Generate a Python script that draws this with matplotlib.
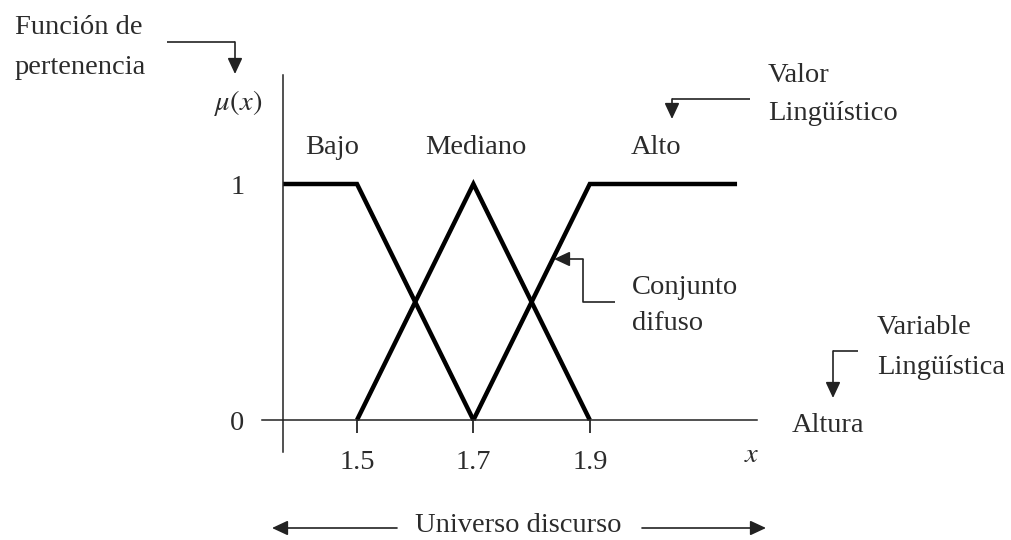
import matplotlib.pyplot as plt

# membership functions (x in m, mu in [0,1])
bajo_x = [1.373, 1.5, 1.7]
bajo_y = [1, 1, 0]
mediano_x = [1.5, 1.7, 1.9]
mediano_y = [0, 1, 0]
alto_x = [1.7, 1.9, 2.153]
alto_y = [0, 1, 1]
x_ticks = [1.5, 1.7, 1.9]
x_tick_labels = ['1.5', '1.7', '1.9']
y_ticks = [0, 1]
y_tick_labels = ['0', '1']
set_names = ['Bajo', 'Mediano', 'Alto']
set_name_x = [1.457, 1.705, 2.013]

W, H = 1011, 540
plt.rcParams['font.family'] = ['Liberation Serif', 'DejaVu Serif']
plt.rcParams['mathtext.fontset'] = 'stix'
TXT = '#2b2b2b'
FS = 20.5

fig = plt.figure(figsize=(W / 100, H / 100), dpi=100)
ax = fig.add_axes([0, 0, 1, 1])
# x: 1.5 -> px 357, 582 px per unit ; y: 0 -> px 420, 236 px per unit
ax.set_xlim(1.5 - 357 / 582, 1.5 + (W - 357) / 582)
ax.set_ylim((420 - H) / 236, 420 / 236)

for xs, ys in [(bajo_x, bajo_y), (mediano_x, mediano_y), (alto_x, alto_y)]:
    ax.plot(xs, ys, color='black', lw=3.2, solid_joinstyle='miter', solid_capstyle='butt')

# axes lines
for s in ['top', 'right']:
    ax.spines[s].set_visible(False)
ax.spines['left'].set_position(('data', 1.373))
ax.spines['left'].set_bounds(-0.136, 1.46)
ax.spines['bottom'].set_position(('data', 0))
ax.spines['bottom'].set_bounds(1.337, 2.187)
for s in ['left', 'bottom']:
    ax.spines[s].set_linewidth(1.1)
    ax.spines[s].set_color('#222222')
ax.set_xticks(x_ticks)
ax.set_xticklabels(x_tick_labels)
ax.set_yticks(y_ticks)
ax.set_yticklabels(y_tick_labels)
ax.tick_params(axis='x', direction='out', length=9.5, width=1.1, pad=12, labelsize=FS, labelcolor=TXT)
ax.tick_params(axis='y', length=0, pad=28, labelsize=FS, labelcolor=TXT)
ax.patch.set_alpha(0)

for name, nx in zip(set_names, set_name_x):
    ax.text(nx, 1.155, name, ha='center', va='center', fontsize=FS, color=TXT)


def P(px, py):
    return (px / W, 1 - py / H)


def txt(px, py, s, **kw):
    kw.setdefault('ha', 'left')
    fig.text(*P(px, py), s, va='center', fontsize=FS, color=TXT, **kw)


def bent(points):
    # polyline in pixel coords, arrow head at the last point
    xs = [P(*p)[0] for p in points[:-1]]
    ys = [P(*p)[1] for p in points[:-1]]
    ax.plot(xs, ys, color='#222222', lw=1.2, transform=fig.transFigure, solid_capstyle='butt')
    ax.annotate('', xy=P(*points[-1]), xytext=P(*points[-2]), xycoords='figure fraction',
                textcoords='figure fraction',
                arrowprops=dict(arrowstyle='-|>,head_length=0.6,head_width=0.28', color='#222222',
                                lw=1.2, mutation_scale=16, shrinkA=0, shrinkB=0))


txt(15, 28, 'Función de')
txt(15, 67, 'pertenencia')
bent([(167, 42), (235, 42), (235, 74)])
txt(262, 103, r'$\mu(x)$', ha='right')

txt(768, 75, 'Valor')
txt(768, 113, 'Lingüístico')
bent([(750, 99), (672, 99), (672, 119)])

txt(632, 287, 'Conjunto')
txt(632, 323, 'difuso')
bent([(615, 302), (583, 302), (583, 259), (554, 259)])

txt(877, 328, 'Variable')
txt(877, 368, 'Lingüística')
bent([(858, 351), (833, 351), (833, 398)])

txt(792, 425, 'Altura')
txt(752, 456, r'$x$', ha='center')

txt(518, 525, 'Universo discurso', ha='center')
bent([(397, 528), (272, 528)])
bent([(642, 528), (766, 528)])

fig.savefig('out.png', dpi=100, facecolor='white')
